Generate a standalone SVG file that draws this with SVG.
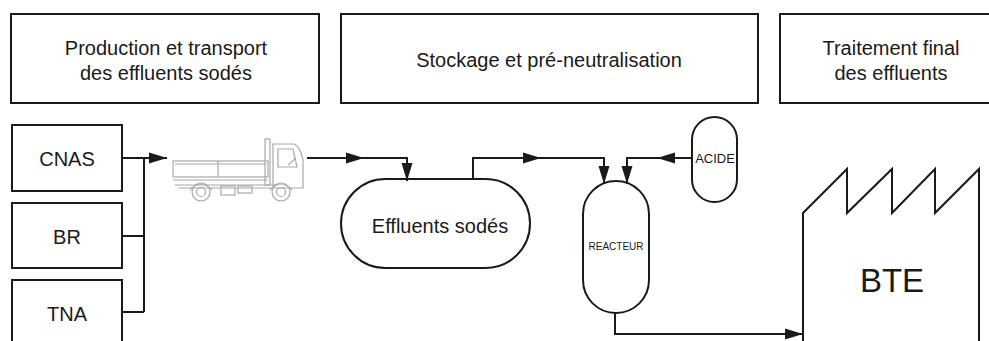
<svg xmlns="http://www.w3.org/2000/svg" width="989" height="341" viewBox="0 0 989 341">
<style>
  .box { fill: #fff; stroke: #1a1a1a; stroke-width: 2; }
  .shape { fill: #fff; stroke: #1a1a1a; stroke-width: 2; }
  .line { fill: none; stroke: #1a1a1a; stroke-width: 2; }
  .t { font-family: "Liberation Sans", Arial, sans-serif; fill: #1a1a1a; text-anchor: middle; }
  .truck { fill: none; stroke: #a8a8a8; stroke-width: 1.2; }
</style>
<defs>
  <marker id="arr" markerUnits="userSpaceOnUse" markerWidth="19" markerHeight="12" refX="18" refY="6" orient="auto">
    <path d="M0,0.5 L18,6 L0,11.5 z" fill="#1a1a1a"/>
  </marker>
</defs>
<rect width="989" height="341" fill="#fff"/>

<g id="phase-production">
  <rect class="box" x="11" y="14" width="308" height="89"/>
  <text class="t" x="166" y="55" font-size="20">Production et transport</text>
  <text class="t" x="166" y="80" font-size="20">des effluents sodés</text>
</g>
<g id="phase-stockage">
  <rect class="box" x="341" y="14" width="417" height="89"/>
  <text class="t" x="549" y="67" font-size="20">Stockage et pré-neutralisation</text>
</g>
<g id="phase-traitement">
  <rect class="box" x="780" y="14" width="215" height="89"/>
  <text class="t" x="891" y="55" font-size="20">Traitement final</text>
  <text class="t" x="891" y="80" font-size="20">des effluents</text>
</g>

<g id="cnas">
  <rect class="box" x="12" y="125" width="110" height="66"/>
  <text class="t" x="67" y="166" font-size="20">CNAS</text>
</g>
<g id="br">
  <rect class="box" x="12" y="203" width="110" height="65"/>
  <text class="t" x="67" y="244" font-size="20">BR</text>
</g>
<g id="tna">
  <rect class="box" x="12" y="280" width="110" height="72"/>
  <text class="t" x="67" y="321" font-size="20">TNA</text>
</g>

<g id="truck">
  <rect class="truck" x="173" y="161" width="95" height="16"/>
  <line class="truck" x1="218" y1="161" x2="218" y2="177"/>
  <line class="truck" x1="175" y1="164" x2="266" y2="164"/>
  <line class="truck" x1="173" y1="180" x2="268" y2="180"/>
  <line class="truck" x1="175" y1="185" x2="278" y2="185"/>
  <line class="truck" x1="178" y1="188" x2="272" y2="188"/>
  <rect class="truck" x="265" y="139" width="5" height="46"/>
  <path class="truck" d="M273,188 V144 H294 Q300,146 303,160 V188 Z"/>
  <path class="truck" d="M278,149 H293 L297,167 H278 Z"/>
  <line class="truck" x1="288" y1="165" x2="296" y2="158"/>
  <rect class="truck" x="221" y="186" width="14" height="9"/>
  <rect class="truck" x="238" y="186" width="14" height="7"/>
  <circle class="truck" cx="201" cy="192" r="9"/>
  <circle class="truck" cx="201" cy="192" r="4.5"/>
  <circle class="truck" cx="281" cy="192" r="9"/>
  <circle class="truck" cx="281" cy="192" r="4.5"/>
  <path class="truck" d="M190,190 Q201,178 212,190"/>
  <path class="truck" d="M270,190 Q281,178 292,190"/>
</g>

<g id="effluents">
  <rect class="shape" x="341" y="179" width="189" height="89" rx="44.5" ry="44.5"/>
  <text class="t" x="440" y="233" font-size="20">Effluents sodés</text>
</g>
<g id="reacteur">
  <rect class="shape" x="583" y="181" width="66" height="132" rx="33" ry="33"/>
  <text class="t" x="616" y="250" font-size="10">REACTEUR</text>
</g>
<g id="acide">
  <rect class="shape" x="692" y="117" width="45" height="85" rx="22.5" ry="22.5"/>
  <text class="t" x="715" y="163" font-size="13">ACIDE</text>
</g>
<g id="bte">
  <path class="line" d="M803,345 V213 L847,169 V213 L892,169 V213 L935,169 V213 L979,169 V345"/>
  <text class="t" x="892" y="292" font-size="33">BTE</text>
</g>

<g id="connectors">
  <path class="line" d="M122,158 H144 M122,236 H144 M122,312 H144 M144,158 V312"/>
  <path class="line" d="M144,158 H167" marker-end="url(#arr)"/>
  <path class="line" d="M307,158 H364" marker-end="url(#arr)"/>
  <path class="line" d="M363,158 H407 V181" marker-end="url(#arr)"/>
  <path class="line" d="M473,179 V158 H541" marker-end="url(#arr)"/>
  <path class="line" d="M540,158 H604 V184" marker-end="url(#arr)"/>
  <path class="line" d="M692,158 H657" marker-end="url(#arr)"/>
  <path class="line" d="M658,158 H627 V184" marker-end="url(#arr)"/>
  <path class="line" d="M615,313 V334 H803" marker-end="url(#arr)"/>
</g>
</svg>
